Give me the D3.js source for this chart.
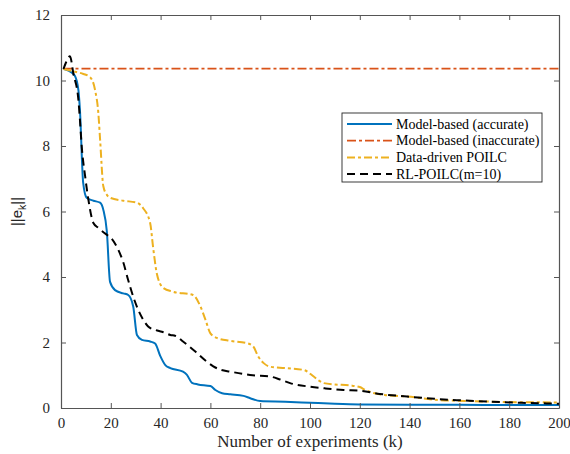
<!DOCTYPE html>
<html>
<head>
<meta charset="utf-8">
<script src="https://cdn.jsdelivr.net/npm/d3@7"></script>
<style>
  html, body { margin: 0; padding: 0; background: #fff; }
  svg { display: block; }
</style>
</head>
<body>
<div id="chart"></div>
<script>
(function () {
  'use strict';

  // Series names (legend order)
  const SERIES_NAMES = ['Model-based (accurate)', 'Model-based (inaccurate)', 'Data-driven POILC', 'RL-POILC(m=10)'];

  // Model-based (accurate)
  const kAccurate = [1, 3, 5.5, 7, 7.6, 8.9, 10.3, 13, 15.7, 17, 18.4, 19.7, 21.7, 25, 27, 29, 30.5, 32.5, 35.8, 37.8, 39.8, 41.9, 43.9, 49, 50.5, 52.6, 55, 60, 62, 64.7, 68, 73.3, 76, 80, 90, 100, 110, 120, 140, 160, 180, 200];
  const eAccurate = [10.36, 10.3, 10.15, 9.7, 9.1, 6.88, 6.42, 6.33, 6.27, 6.05, 5.4, 3.85, 3.6, 3.5, 3.45, 3.1, 2.23, 2.08, 2.03, 1.97, 1.6, 1.31, 1.22, 1.11, 1.02, 0.77, 0.72, 0.67, 0.55, 0.45, 0.42, 0.37, 0.3, 0.21, 0.19, 0.16, 0.13, 0.11, 0.1, 0.1, 0.09, 0.09];

  // Model-based (inaccurate)
  const kInaccurate = [1, 200];
  const eInaccurate = [10.36, 10.36];

  // Data-driven POILC
  const kData = [1, 5, 9, 11.7, 13.7, 15, 15.7, 17, 18.5, 19.7, 25, 30.5, 33, 35.8, 37, 38.5, 41, 45, 53, 56, 58, 60, 62.6, 68, 74.7, 77.3, 79, 81.4, 84, 90, 97.5, 101.5, 103.5, 105.5, 110, 116, 120, 122, 125.5, 130, 139, 152.5, 166, 180, 200];
  const eData = [10.35, 10.28, 10.2, 10.1, 9.7, 9.0, 8.2, 6.77, 6.5, 6.42, 6.33, 6.27, 6.1, 5.65, 4.9, 4.1, 3.67, 3.55, 3.45, 3.1, 2.7, 2.28, 2.14, 2.05, 1.98, 1.87, 1.6, 1.37, 1.26, 1.22, 1.16, 0.96, 0.84, 0.76, 0.72, 0.69, 0.64, 0.56, 0.46, 0.4, 0.35, 0.24, 0.21, 0.18, 0.17];

  // RL-POILC (m=10)
  const kRL = [1, 2, 3.6, 5, 7, 7.6, 8.3, 9.7, 11, 13, 15, 18.4, 20, 23, 25, 27, 29, 31, 33, 35, 38, 40.5, 43.9, 46, 49, 52, 54.6, 58, 61, 64, 68, 77, 84, 88, 92, 100, 106, 113.5, 120, 128, 139, 150, 159, 172.6, 185, 195, 200];
  const eRL = [10.35, 10.55, 10.74, 10.2, 9.4, 8.8, 8.0, 7.07, 6.36, 5.65, 5.5, 5.29, 5.2, 4.83, 4.45, 3.9, 3.4, 3.0, 2.7, 2.49, 2.38, 2.33, 2.23, 2.2, 2.03, 1.85, 1.68, 1.45, 1.28, 1.17, 1.11, 1.0, 0.96, 0.87, 0.76, 0.65, 0.6, 0.55, 0.53, 0.43, 0.35, 0.28, 0.24, 0.19, 0.16, 0.14, 0.13];

  const X_TICKS = [0, 20, 40, 60, 80, 100, 120, 140, 160, 180, 200];
  const Y_TICKS = [0, 2, 4, 6, 8, 10, 12];

  const W = 570, H = 454;
  const margin = { top: 15, right: 11, bottom: 46, left: 61 };
  const AXIS_COLOR = '#555';
  const SERIF = '"Liberation Serif", "Times New Roman", serif';

  const series = [
    { name: SERIES_NAMES[0], k: kAccurate,   e: eAccurate,   color: '#0072BD', dash: null,      width: 2 },
    { name: SERIES_NAMES[1], k: kInaccurate, e: eInaccurate, color: '#D95319', dash: '9,3,3,3', width: 1.8 },
    { name: SERIES_NAMES[2], k: kData,       e: eData,       color: '#EDB120', dash: '8,3,3,3', width: 2 },
    { name: SERIES_NAMES[3], k: kRL,         e: eRL,         color: '#000000', dash: '8,5',     width: 2 },
  ];

  const svg = d3.select('#chart').append('svg')
    .attr('width', W).attr('height', H)
    .attr('viewBox', `0 0 ${W} ${H}`);

  const x = d3.scaleLinear().domain([0, 200]).range([margin.left, W - margin.right]);
  const y = d3.scaleLinear().domain([0, 12]).range([H - margin.bottom, margin.top]);

  // Data lines
  const line = d3.line()
    .x(d => x(d[0])).y(d => y(d[1]))
    .curve(d3.curveMonotoneX);

  series.forEach(s => {
    svg.append('path')
      .datum(s.k.map((k, i) => [k, s.e[i]]))
      .attr('fill', 'none')
      .attr('stroke', s.color)
      .attr('stroke-width', s.width)
      .attr('stroke-dasharray', s.dash)
      .attr('d', line);
  });

  // Axes (box with inward ticks on all sides)
  const x0 = x.range()[0], x1 = x.range()[1];
  const y0 = y.range()[0], y1 = y.range()[1];
  const tickLen = 5;

  const bottom = svg.append('g').attr('transform', `translate(0,${y0})`)
    .call(d3.axisBottom(x).tickValues(X_TICKS).tickSizeInner(-tickLen).tickSizeOuter(0).tickPadding(9));
  const top = svg.append('g').attr('transform', `translate(0,${y1})`)
    .call(d3.axisTop(x).tickValues(X_TICKS).tickSizeInner(-tickLen).tickSizeOuter(0).tickFormat(''));
  const left = svg.append('g').attr('transform', `translate(${x0},0)`)
    .call(d3.axisLeft(y).tickValues(Y_TICKS).tickSizeInner(-tickLen).tickSizeOuter(0).tickPadding(11));
  const right = svg.append('g').attr('transform', `translate(${x1},0)`)
    .call(d3.axisRight(y).tickValues(Y_TICKS).tickSizeInner(-tickLen).tickSizeOuter(0).tickFormat(''));

  [bottom, top, left, right].forEach(g => {
    g.selectAll('path.domain').attr('stroke', AXIS_COLOR).attr('stroke-width', 1.2);
    g.selectAll('.tick line').attr('stroke', AXIS_COLOR).attr('stroke-width', 1);
    g.selectAll('.tick text')
      .attr('fill', '#262626')
      .attr('font-family', SERIF)
      .attr('font-size', 15);
  });

  // Axis labels
  svg.append('text')
    .attr('x', (x0 + x1) / 2).attr('y', 447)
    .attr('text-anchor', 'middle')
    .attr('font-family', SERIF).attr('font-size', 17)
    .attr('fill', '#262626')
    .text('Number of experiments (k)');

  const yl = svg.append('text')
    .attr('transform', `translate(22,${(y0 + y1) / 2}) rotate(-90)`)
    .attr('text-anchor', 'middle')
    .attr('font-family', '"Liberation Sans", Arial, sans-serif').attr('font-size', 15)
    .attr('fill', '#262626');
  yl.append('tspan').text('||e');
  yl.append('tspan').attr('font-size', 10.5).attr('dy', 4).text('k');
  yl.append('tspan').attr('dy', -4).text('||');

  // Legend
  const lg = { x: 342, y: 113, w: 200, h: 69 };
  svg.append('rect')
    .attr('x', lg.x).attr('y', lg.y).attr('width', lg.w).attr('height', lg.h)
    .attr('fill', '#fff').attr('stroke', '#262626').attr('stroke-width', 0.9);

  series.forEach((s, i) => {
    const ry = lg.y + 11 + i * 16.7;
    svg.append('line')
      .attr('x1', lg.x + 5).attr('x2', lg.x + 50)
      .attr('y1', ry).attr('y2', ry)
      .attr('stroke', s.color).attr('stroke-width', s.width)
      .attr('stroke-dasharray', s.dash);
    svg.append('text')
      .attr('x', lg.x + 54).attr('y', ry + 4.5)
      .attr('font-family', SERIF).attr('font-size', 14)
      .attr('fill', '#000')
      .text(s.name);
  });
})();
</script>
</body>
</html>
